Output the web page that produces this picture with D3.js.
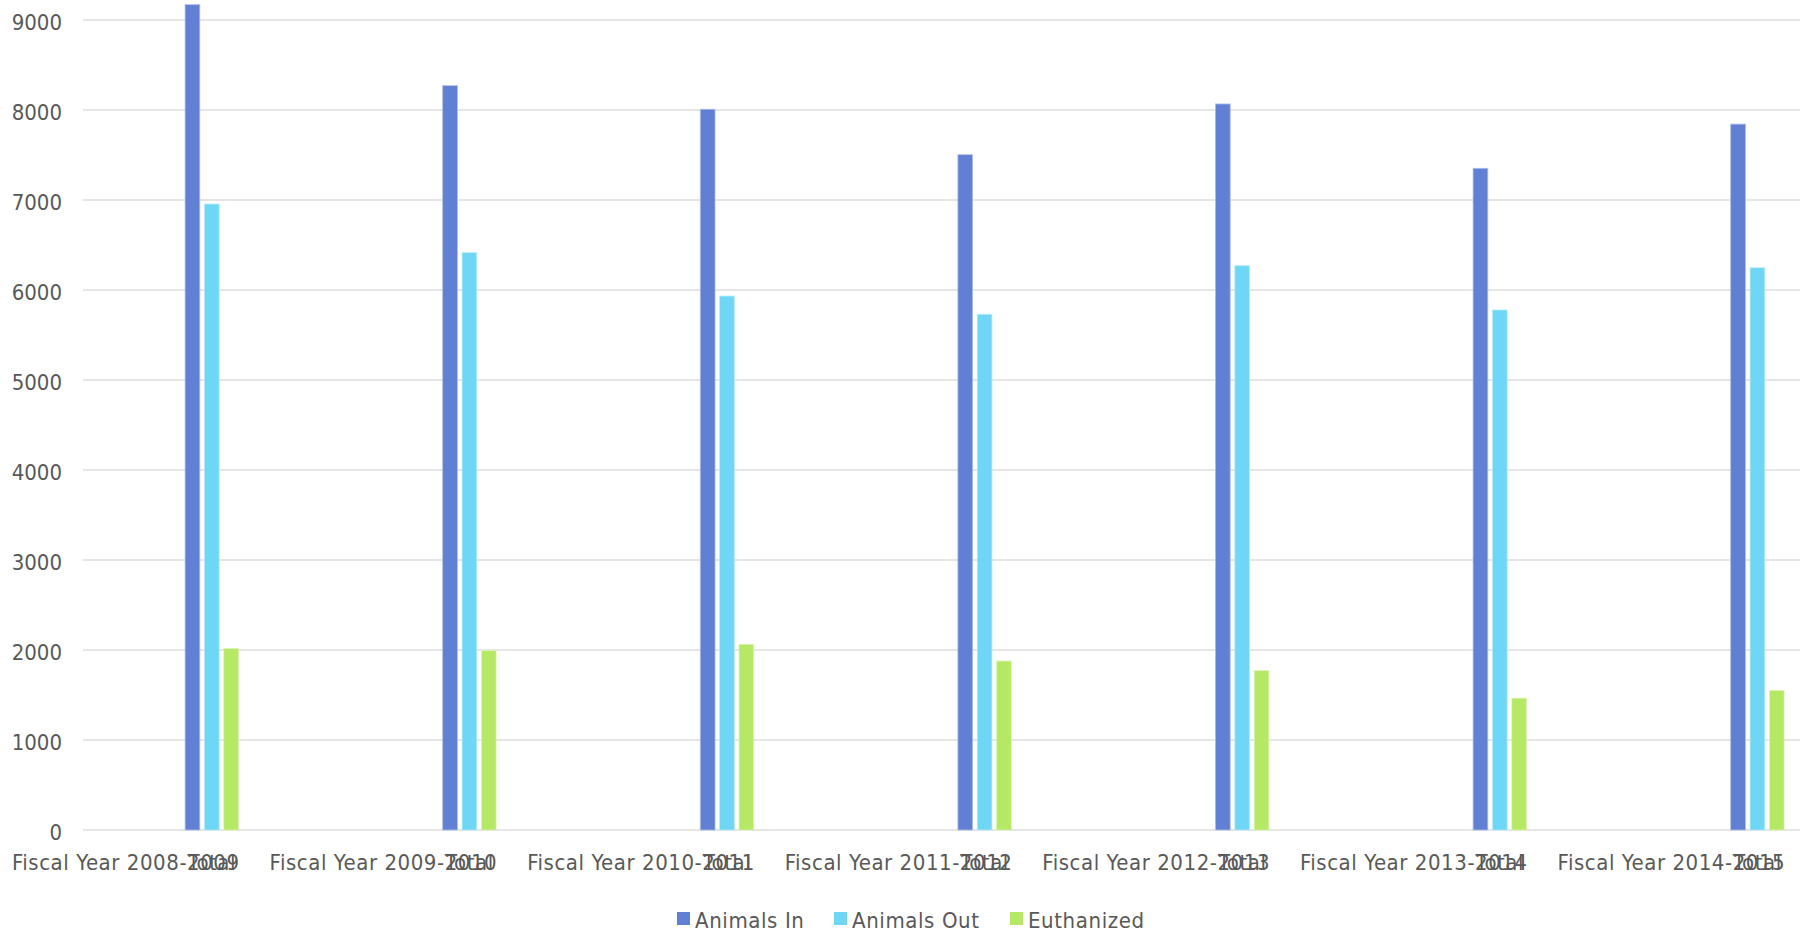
<!DOCTYPE html>
<html>
<head>
<meta charset="utf-8">
<script src="https://cdn.jsdelivr.net/npm/d3@7"></script>
<style>
  html, body { margin: 0; padding: 0; background: #ffffff; }
  svg { display: block; }
  text { font-family: "DejaVu Sans Condensed", "DejaVu Sans", sans-serif; fill: #595959; }
</style>
</head>
<body>
<svg id="chart" width="1813" height="935"></svg>
<script>
const categories = [
  "Fiscal Year 2008-2009",
  "Fiscal Year 2009-2010",
  "Fiscal Year 2010-2011",
  "Fiscal Year 2011-2012",
  "Fiscal Year 2012-2013",
  "Fiscal Year 2013-2014",
  "Fiscal Year 2014-2015"
];
const subCategory = "Total";
const seriesNames = ["Animals In", "Animals Out", "Euthanized"];
const animalsIn  = [9170, 8270, 8008, 7503, 8067, 7352, 7843];
const animalsOut = [6955, 6415, 5933, 5730, 6270, 5778, 6247];
const euthanized = [2018, 1993, 2063, 1878, 1770, 1465, 1550];
const yTicks = [0, 1000, 2000, 3000, 4000, 5000, 6000, 7000, 8000, 9000];
const colors = ["#6180d4", "#6fd7f5", "#b5e865"];
const strokes = ["#a9bbec", "#b6ecfb", "#dcf5b6"];

const seriesValues = [animalsIn, animalsOut, euthanized];

const svg = d3.select("#chart");
const plotLeft = 83, plotRight = 1800, plotTop = 20, plotBottom = 830;
const groupStep = 257.6;

const x = d3.scaleBand()
  .domain(categories)
  .range([plotLeft, plotLeft + groupStep * categories.length]);

const groupWidth = 53.4;
const xInner = d3.scaleBand()
  .domain(seriesNames)
  .range([0, groupWidth])
  .paddingInner(0.24);

const y = d3.scaleLinear().domain([0, 9000]).range([plotBottom, plotTop]);

// gridlines
svg.append("g")
  .selectAll("line")
  .data(yTicks)
  .join("line")
  .attr("x1", plotLeft)
  .attr("x2", plotRight)
  .attr("y1", d => y(d))
  .attr("y2", d => y(d))
  .attr("stroke", "#dedede")
  .attr("stroke-width", 1.6);

// y labels
svg.append("g")
  .selectAll("text")
  .data(yTicks)
  .join("text")
  .attr("x", 62)
  .attr("y", d => y(d) + 10)
  .attr("text-anchor", "end")
  .attr("font-size", 22)
  .text(d => d);

// bars
const groups = svg.append("g")
  .selectAll("g")
  .data(categories)
  .join("g")
  .attr("transform", d => `translate(${x(d) + x.bandwidth() / 2 - groupWidth / 2},0)`);

groups.selectAll("rect")
  .data((d, i) => seriesNames.map((s, j) => ({ s, j, v: seriesValues[j][i] })))
  .join("rect")
  .attr("x", d => xInner(d.s))
  .attr("width", xInner.bandwidth())
  .attr("y", d => y(d.v))
  .attr("height", d => y(0) - y(d.v))
  .attr("fill", d => colors[d.j])
  .attr("stroke", d => strokes[d.j])
  .attr("stroke-width", 0.8);

// x labels: outer category and sub-category (overlapping, as in the reference)
const xl = svg.append("g");
xl.selectAll("text.cat")
  .data(categories)
  .join("text")
  .attr("class", "cat")
  .attr("x", d => x(d) + x.bandwidth() / 2 - 86)
  .attr("y", 870)
  .attr("text-anchor", "middle")
  .attr("font-size", 22)
  .attr("letter-spacing", 0.55)
  .text(d => d);
xl.selectAll("text.sub")
  .data(categories)
  .join("text")
  .attr("class", "sub")
  .attr("x", d => x(d) + x.bandwidth() / 2)
  .attr("y", 870)
  .attr("text-anchor", "middle")
  .attr("font-size", 22)
  .attr("letter-spacing", 0.55)
  .text(subCategory);

// legend
const legendX = [677, 834, 1010];
const legend = svg.append("g");
const li = legend.selectAll("g")
  .data(seriesNames)
  .join("g")
  .attr("transform", (d, i) => `translate(${legendX[i]},912)`);
li.append("rect")
  .attr("width", 13).attr("height", 13)
  .attr("fill", (d, i) => colors[i]);
li.append("text")
  .attr("x", 18).attr("y", 16)
  .attr("font-size", 22)
  .attr("letter-spacing", 0.6)
  .text(d => d);
</script>
</body>
</html>
